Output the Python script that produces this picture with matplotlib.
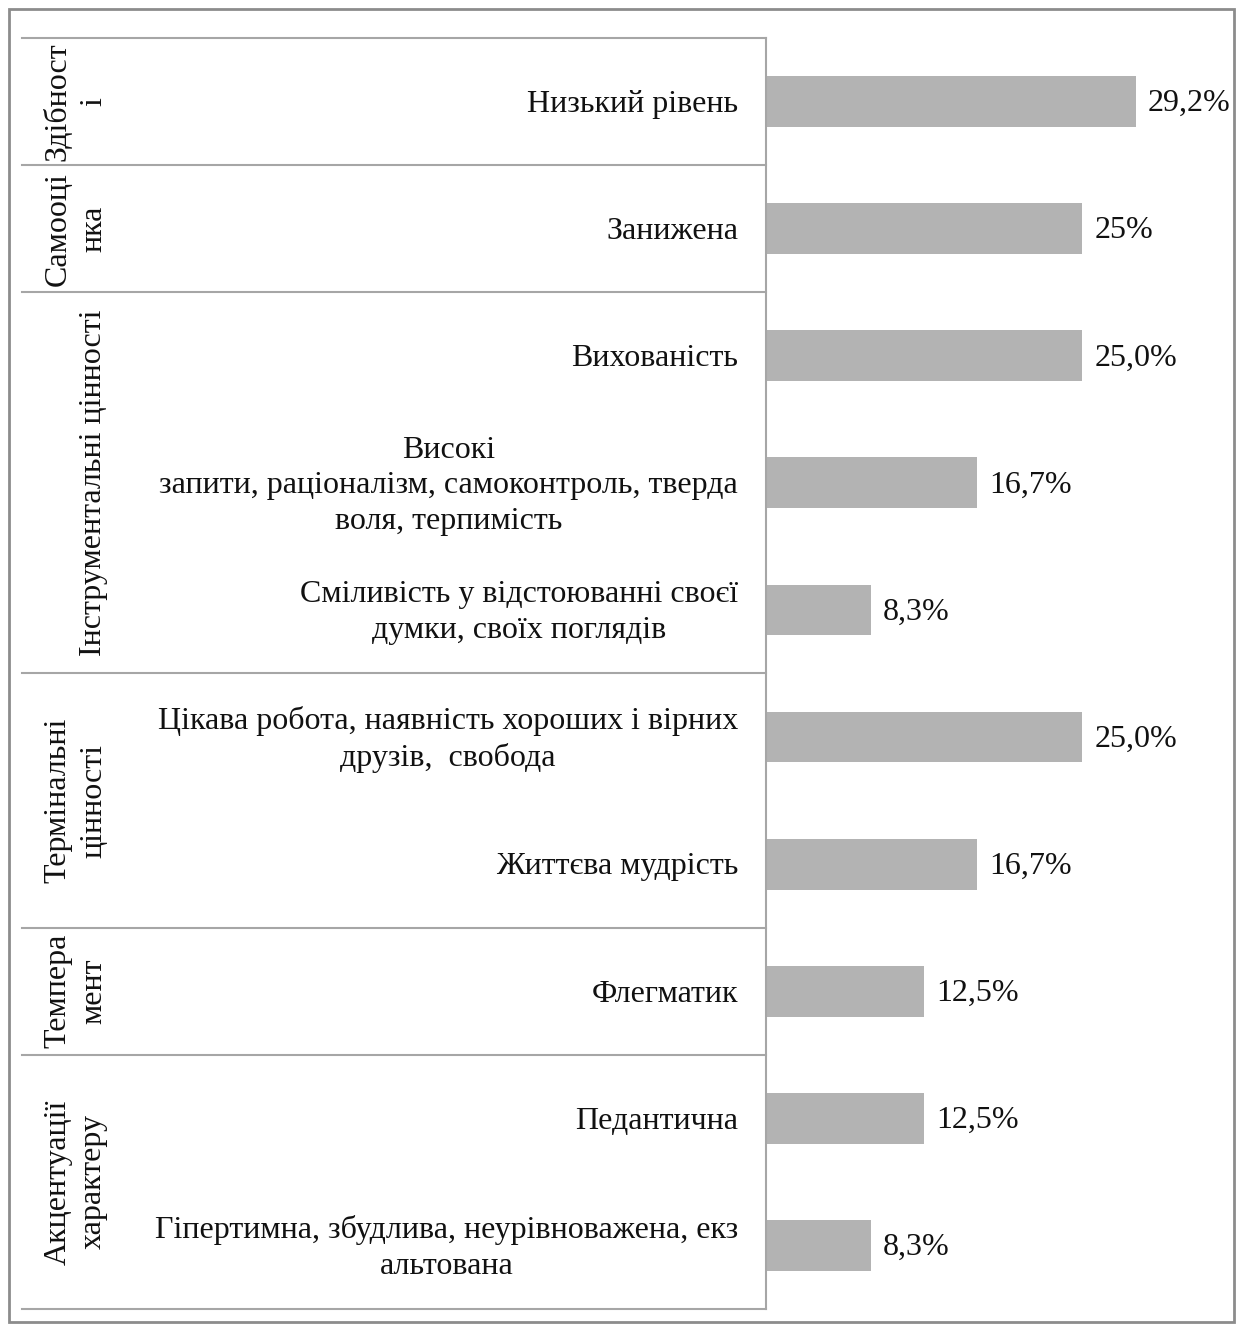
import numpy as np
import matplotlib
matplotlib.use("Agg")
import matplotlib.pyplot as plt
from matplotlib.patches import Rectangle
from matplotlib.transforms import blended_transform_factory, offset_copy

plt.rcParams['font.family'] = ['Liberation Serif', 'DejaVu Serif']

groups = ["Здібност\nі", "Самооці\nнка", "Інструментальні цінності",
          "Термінальні\nцінності", "Темпера\nмент", "Акцентуації\nхарактеру"]
group_sizes = [1, 1, 3, 2, 1, 2]
items = ["Низький рівень",
         "Занижена",
         "Вихованість",
         "Високі\nзапити, раціоналізм, самоконтроль, тверда\nволя, терпимість",
         "Сміливість у відстоюванні своєї\nдумки, своїх поглядів",
         "Цікава робота, наявність хороших і вірних\nдрузів,  свобода",
         "Життєва мудрість",
         "Флегматик",
         "Педантична",
         "Гіпертимна, збудлива, неурівноважена, екз\nальтована"]
values = [29.2, 25, 25.0, 16.7, 8.3, 25.0, 16.7, 12.5, 12.5, 8.3]
value_labels = ["29,2%", "25%", "25,0%", "16,7%", "8,3%",
                "25,0%", "16,7%", "12,5%", "12,5%", "8,3%"]

W, H = 1239, 1330
fig = plt.figure(figsize=(W / 100, H / 100), dpi=100)
ax = fig.add_axes([766 / W, 21 / H, (1209 - 766) / W, (1309 - 38) / H])

FS = 23
txt_col = '#111111'
line_col = '#a6a6a6'
y = np.arange(len(values))
ax.barh(y, values, height=0.4, color='#b3b3b3')
ax.set_xlim(0, 35)
ax.set_ylim(len(values) - 0.5, -0.5)

for yi, v, lab in zip(y, values, value_labels):
    ax.annotate(lab, (v, yi), xytext=(8.6, -1.5), textcoords='offset points',
                ha='left', va='center', fontsize=FS, color=txt_col)

ax.set_xticks([])
ax.set_yticks([])
for s in ['top', 'right', 'bottom']:
    ax.spines[s].set_visible(False)
ax.spines['left'].set_color(line_col)
ax.spines['left'].set_linewidth(1.5)

trans = blended_transform_factory(fig.transFigure, ax.transData)
trans_txt = offset_copy(trans, fig=fig, y=-2, units='points')

# item labels
for yi, lab in zip(y, items):
    ax.text(738 / W, yi, lab, transform=trans_txt, ha='right', va='center',
            multialignment='center', fontsize=FS, linespacing=1.3, color=txt_col)

# group labels and separators
start = 0
bounds = [-0.5]
for g, n in zip(groups, group_sizes):
    mid = start + (n - 1) / 2
    ax.text(108 / W, mid, g, transform=trans, rotation=90, ha='right', va='center',
            multialignment='center', fontsize=FS, linespacing=1.28, color=txt_col)
    start += n
    bounds.append(start - 0.5)

for b in bounds:
    ax.plot([22 / W, 766 / W], [b, b], transform=trans, color=line_col,
            lw=1.5, clip_on=False)

# outer border
fig.patches.append(Rectangle((9 / W, 8 / H), (1234 - 9) / W, (1321 - 8) / H,
                             transform=fig.transFigure, fill=False,
                             edgecolor='#8c8c8c', linewidth=2))

fig.savefig('out.png', dpi=100)
